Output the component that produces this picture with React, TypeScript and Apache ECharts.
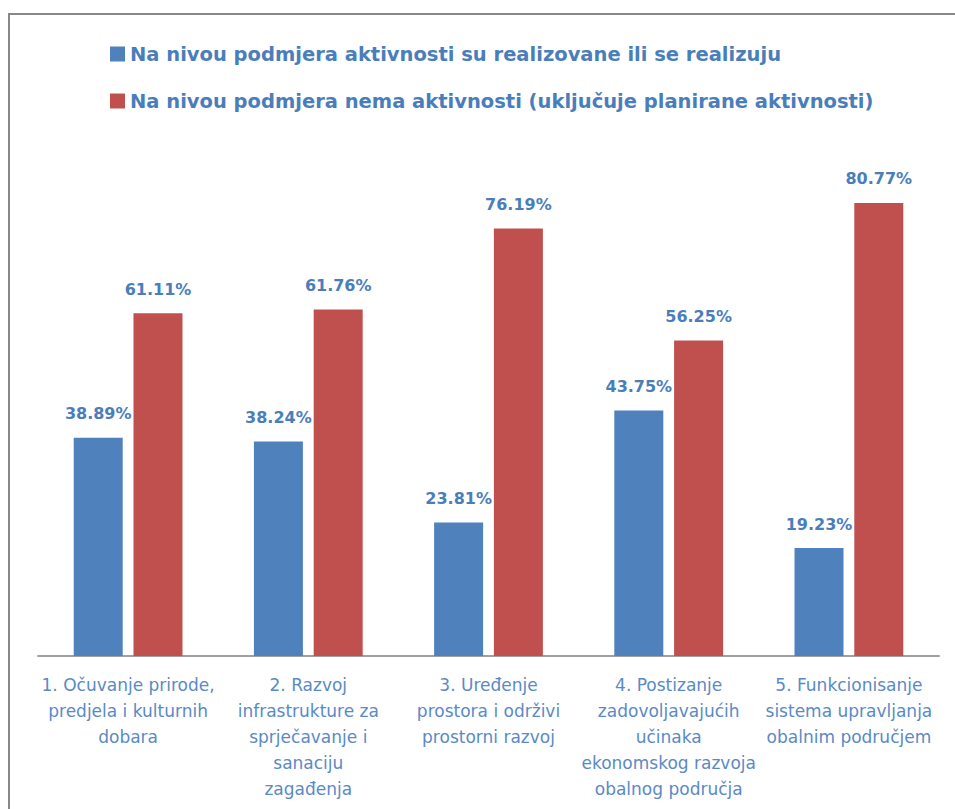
import React, { useEffect, useRef } from "react";
import * as echarts from "echarts";

const categories = [
  "1. Očuvanje prirode,\npredjela i kulturnih\ndobara",
  "2. Razvoj\ninfrastrukture za\nsprječavanje i\nsanaciju\nzagađenja",
  "3. Uređenje\nprostora i održivi\nprostorni razvoj",
  "4. Postizanje\nzadovoljavajućih\nučinaka\nekonomskog razvoja\nobalnog područja",
  "5. Funkcionisanje\nsistema upravljanja\nobalnim područjem",
];
const seriesNames = [
  "Na nivou podmjera aktivnosti su realizovane ili se realizuju",
  "Na nivou podmjera nema aktivnosti (uključuje planirane aktivnosti)",
];
const realized = [38.89, 38.24, 23.81, 43.75, 19.23];
const noActivity = [61.11, 61.76, 76.19, 56.25, 80.77];

const BLUE = "#4F81BD";
const RED = "#C0504D";
const TEXT_BLUE = "#4A7EBB";
const AXIS_TEXT = "#5A8AC6";

export default function App() {
  const ref = useRef<HTMLDivElement>(null);
  useEffect(() => {
    if (!ref.current) return;
    const chart = echarts.init(ref.current, null, { renderer: "svg" });
    const label = {
      show: true,
      position: "top",
      distance: 16,
      color: TEXT_BLUE,
      fontFamily: "DejaVu Sans",
      fontWeight: "bold",
      fontSize: 16,
      formatter: (p: any) => p.value.toFixed(2) + "%",
    };
    chart.setOption({
      animation: false,
      backgroundColor: "#ffffff",
      graphic: [
        {
          type: "rect",
          shape: { x: 9, y: 14, width: 1000, height: 1000 },
          style: { fill: "none", stroke: "#888888", lineWidth: 2 },
        },
      ],
      legend: {
        orient: "vertical",
        left: 105,
        top: 39,
        itemWidth: 15,
        itemHeight: 15,
        itemGap: 27,
        icon: "rect",
        textStyle: {
          color: TEXT_BLUE,
          fontFamily: "DejaVu Sans",
          fontWeight: "bold",
          fontSize: 19.5,
        },
        data: seriesNames,
      },
      grid: { left: 38, right: 16, top: 95, bottom: 153, containLabel: false },
      xAxis: {
        type: "category",
        data: categories,
        axisLine: { show: true, lineStyle: { color: "#A0A0A0", width: 2 } },
        axisTick: { show: false },
        axisLabel: {
          interval: 0,
          color: AXIS_TEXT,
          fontFamily: "DejaVu Sans",
          fontSize: 17,
          lineHeight: 26,
          margin: 16,
          align: "center",
        },
      },
      yAxis: {
        type: "value",
        min: 0,
        max: 100,
        show: false,
        splitLine: { show: false },
      },
      series: [
        {
          name: seriesNames[0],
          type: "bar",
          data: realized,
          barWidth: 49,
          barGap: "22%",
          itemStyle: { color: BLUE },
          label,
        },
        {
          name: seriesNames[1],
          type: "bar",
          data: noActivity,
          barWidth: 49,
          barGap: "22%",
          itemStyle: { color: RED },
          label,
        },
      ],
    });
    return () => chart.dispose();
  }, []);
  return (
    <div
      ref={ref}
      style={{ position: "fixed", left: 0, top: 0, width: 955, height: 809 }}
    />
  );
}
